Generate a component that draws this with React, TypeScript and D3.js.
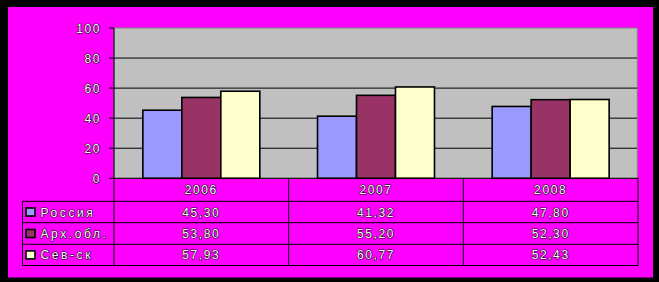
import React from "react";
import * as d3 from "d3";

const categories = ["2006", "2007", "2008"];
const seriesNames = ["Россия", "Арх.обл.", "Сев-ск"];
const russia = [45.3, 41.32, 47.8];
const arkh = [53.8, 55.2, 52.3];
const sev = [57.93, 60.77, 52.43];
const seriesValues = [russia, arkh, sev];
const seriesColors = ["#9999FF", "#993366", "#FFFFCC"];
const yTicks = [0, 20, 40, 60, 80, 100];

const W = 659;
const H = 282;
const plotL = 114;
const plotR = 638;
const plotT = 28;
const plotB = 178.3;
const rowBounds = [178.3, 201.3, 222.7, 244.3, 265.5];
const legendL = 22.5;

const fmt = (v: number) => v.toFixed(2).replace(".", ",");

const txtStyle: React.CSSProperties = {
  fontFamily: "'Liberation Sans', Arial, sans-serif",
  fontSize: 12,
  letterSpacing: 1.6,
  fill: "#ffffff",
  stroke: "#000000",
  strokeWidth: 1.1,
  paintOrder: "stroke",
  strokeLinejoin: "round",
};
const legendStyle: React.CSSProperties = { ...txtStyle, letterSpacing: 2.6 };

export default function App() {
  const x0 = d3.scaleBand<string>().domain(categories).range([plotL, plotR]).paddingInner(0).paddingOuter(0);
  const x1 = d3
    .scaleBand<string>()
    .domain(seriesNames)
    .range([0, x0.bandwidth()])
    .paddingOuter(0.74)
    .paddingInner(0);
  const y = d3.scaleLinear().domain([0, 100]).range([plotB, plotT]);

  return (
    <svg
      width={W}
      height={H}
      style={{ position: "absolute", left: 0, top: 0, display: "block" }}
    >
      <rect x={0} y={0} width={W} height={H} fill="#000" />
      <rect x={8} y={7} width={645} height={270.5} fill="#FF00FF" />
      {/* plot area */}
      <rect x={plotL} y={plotT} width={plotR - plotL - 0.7} height={plotB - plotT} fill="#C0C0C0" stroke="#808080" strokeWidth={1} />
      {yTicks.filter((t) => t > 0 && t < 100).map((t) => (
        <line key={t} x1={plotL} x2={plotR - 1} y1={y(t)} y2={y(t)} stroke="#000" strokeWidth={1} />
      ))}
      {/* bars */}
      {categories.map((c, ci) =>
        seriesNames.map((s, si) => {
          const v = seriesValues[si][ci];
          const bx = (x0(c) as number) + (x1(s) as number);
          return (
            <rect
              key={c + s}
              x={bx}
              y={y(v)}
              width={x1.bandwidth()}
              height={y(0) - y(v)}
              fill={seriesColors[si]}
              stroke="#000"
              strokeWidth={1.6}
            />
          );
        })
      )}
      {/* y axis */}
      <line x1={plotL} x2={plotL} y1={plotT} y2={plotB} stroke="#000" strokeWidth={1} />
      {yTicks.map((t) => (
        <g key={t}>
          <line x1={plotL - 5} x2={plotL} y1={y(t)} y2={y(t)} stroke="#000" strokeWidth={1} />
          <text x={101} y={y(t) + 4.5} textAnchor="end" style={txtStyle}>
            {t}
          </text>
        </g>
      ))}
      {/* data table */}
      <g fill="none" stroke="#000" strokeWidth={1}>
        {rowBounds.map((ry, i) => (
          <line key={i} x1={i === 0 ? plotL : legendL} x2={plotR} y1={ry} y2={ry} />
        ))}
        <line x1={legendL} x2={legendL} y1={rowBounds[1]} y2={rowBounds[4]} />
        <line x1={plotL} x2={plotL} y1={rowBounds[0]} y2={rowBounds[4]} />
        {categories.map((c) => {
          const bx = (x0(c) as number) + x0.bandwidth();
          return <line key={c} x1={bx} x2={bx} y1={rowBounds[0]} y2={rowBounds[4]} />;
        })}
      </g>
      {categories.map((c) => (
        <text
          key={c}
          x={(x0(c) as number) + x0.bandwidth() / 2}
          y={(rowBounds[0] + rowBounds[1]) / 2 + 4.5}
          textAnchor="middle"
          style={txtStyle}
        >
          {c}
        </text>
      ))}
      {seriesNames.map((s, si) => {
        const cy = (rowBounds[si + 1] + rowBounds[si + 2]) / 2;
        return (
          <g key={s}>
            <rect x={26} y={cy - 4} width={9} height={8} fill={seriesColors[si]} stroke="#000" strokeWidth={1.6} />
            <text x={40.5} y={cy + 4.5} style={legendStyle}>
              {s}
            </text>
            {categories.map((c, ci) => (
              <text
                key={c}
                x={(x0(c) as number) + x0.bandwidth() / 2}
                y={cy + 4.5}
                textAnchor="middle"
                style={txtStyle}
              >
                {fmt(seriesValues[si][ci])}
              </text>
            ))}
          </g>
        );
      })}
    </svg>
  );
}
